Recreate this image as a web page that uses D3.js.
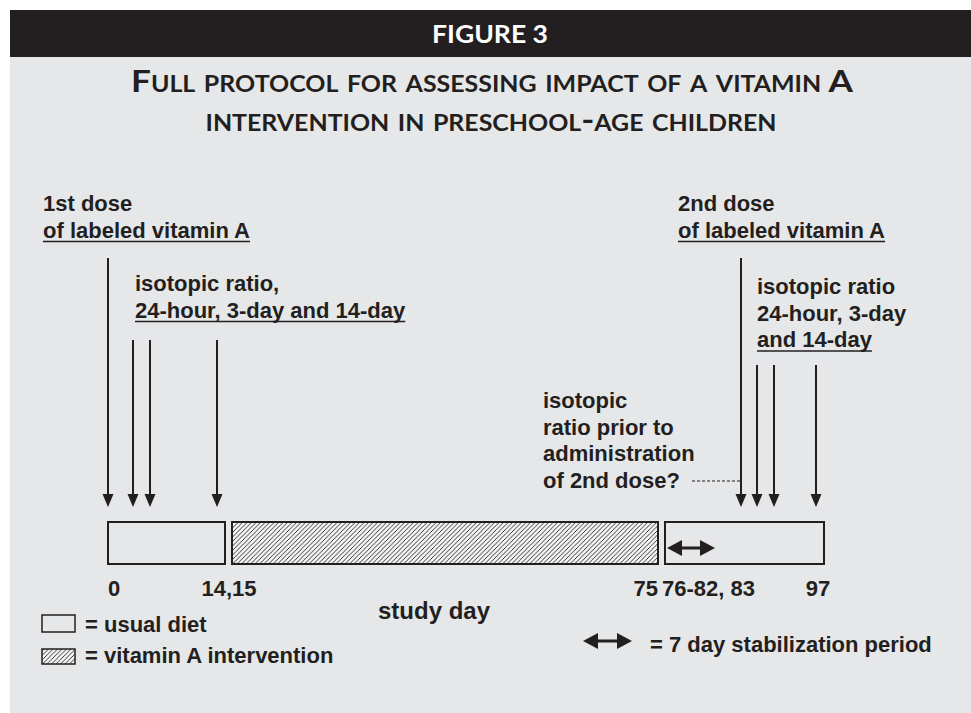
<!DOCTYPE html>
<html lang="en">
<head>
    <meta charset="UTF-8"/>
    <title>Figure 3 - vitamin A protocol</title>
    <script src="https://d3js.org/d3.v7.min.js"></script>
    <style>
        html, body {
            margin: 0;
            padding: 0;
            background: #ffffff;
        }
        svg text {
            fill: #231f20;
        }
        .lbl {
            font-family: "Liberation Sans", Arial, sans-serif;
            font-weight: bold;
            font-size: 22px;
        }
        .title {
            font-family: Lato, "Open Sans", sans-serif;
            font-weight: 700;
            font-variant: small-caps;
            font-size: 31px;
        }
    </style>
</head>
<body>
    <div id="chart"></div>
    <script>
        // phases of the study (day ranges, end is exclusive)
        var phaseNames = ["usual diet", "vitamin A intervention", "usual diet"];
        var phaseStart = [0, 15, 76];
        var phaseEnd = [15, 76, 98];

        // sampling days (arrows)
        var doseDays = [0, 83];
        var sampleDays1 = [1, 3, 14];
        var sampleDays2 = [84, 86, 97];
        var stabilization = [76, 82];

        var tickLabels = ["0", "14,15", "75", "76-82, 83", "97"];
        var tickDays = [0, 15, 76, 76, 97];

        var legendLabels = ["= usual diet", "= vitamin A intervention", "= 7 day stabilization period"];

        var w = 971, h = 713;
        var ink = "#231f20";

        var svg = d3.select("#chart").append("svg")
            .attr("width", w)
            .attr("height", h);

        var defs = svg.append("defs");
        var pat = defs.append("pattern")
            .attr("id", "hatch")
            .attr("patternUnits", "userSpaceOnUse")
            .attr("width", 4.5).attr("height", 4.5);
        pat.append("rect").attr("width", 4.5).attr("height", 4.5).attr("fill", "#f4f4f4");
        pat.append("path")
            .attr("d", "M-1,1 l2,-2 M0,4.5 l4.5,-4.5 M3.5,5.5 l2,-2")
            .attr("stroke", ink).attr("stroke-width", 0.9);

        // background panel + header bar
        svg.append("rect").attr("x", 10).attr("y", 10).attr("width", w - 10).attr("height", h - 10).attr("fill", "#e6e7e8");
        svg.append("rect").attr("x", 10).attr("y", 10).attr("width", w - 10).attr("height", 47).attr("fill", ink);

        svg.append("text")
            .attr("x", 490).attr("y", 43)
            .attr("text-anchor", "middle")
            .attr("textLength", 116).attr("lengthAdjust", "spacingAndGlyphs")
            .style("fill", "#ffffff")
            .style("font-family", "Lato, sans-serif")
            .style("font-weight", 700)
            .style("font-size", "25px")
            .text("FIGURE 3");

        svg.append("text").attr("class", "title")
            .attr("x", 492).attr("y", 92).attr("text-anchor", "middle")
            .attr("textLength", 722).attr("lengthAdjust", "spacingAndGlyphs")
            .text("Full protocol for assessing impact of a vitamin A");
        svg.append("text").attr("class", "title")
            .attr("x", 491).attr("y", 131).attr("text-anchor", "middle")
            .attr("textLength", 571).attr("lengthAdjust", "spacingAndGlyphs")
            .text("intervention in preschool-age children");

        // schematic (piecewise) day scale
        var x = d3.scaleLinear()
            .domain([0, 1, 3, 14, 15, 76, 82, 83, 84, 86, 97, 98])
            .range([108, 133, 150, 217, 232, 665, 715, 741, 757, 774, 816, 831]);
        var gap = 7;
        var boxTop = 522, boxH = 42, tip = 507;

        // phase boxes
        svg.selectAll("rect.phase")
            .data(phaseNames)
            .enter()
            .append("rect")
            .attr("class", "phase")
            .attr("x", function(d, i) { return x(phaseStart[i]); })
            .attr("y", boxTop)
            .attr("width", function(d, i) { return x(phaseEnd[i]) - gap - x(phaseStart[i]); })
            .attr("height", boxH)
            .attr("fill", function(d) { return d == "usual diet" ? "none" : "url(#hatch)"; })
            .attr("stroke", ink)
            .attr("stroke-width", 2);

        // down arrows
        function downArrow(xp, top) {
            svg.append("line")
                .attr("x1", xp).attr("x2", xp)
                .attr("y1", top).attr("y2", tip - 10)
                .attr("stroke", ink).attr("stroke-width", 2);
            svg.append("path")
                .attr("d", "M" + (xp - 5.5) + "," + (tip - 13) + " L" + (xp + 5.5) + "," + (tip - 13) + " L" + xp + "," + tip + " Z")
                .attr("fill", ink);
        }
        doseDays.forEach(function(d) { downArrow(x(d), 258); });
        sampleDays1.forEach(function(d) { downArrow(x(d), 340); });
        sampleDays2.forEach(function(d) { downArrow(x(d), 365); });

        // double arrow
        function doubleArrow(x1, x2, y) {
            svg.append("line")
                .attr("x1", x1 + 10).attr("x2", x2 - 10)
                .attr("y1", y).attr("y2", y)
                .attr("stroke", ink).attr("stroke-width", 3);
            svg.append("path")
                .attr("d", "M" + x1 + "," + y + " L" + (x1 + 15) + "," + (y - 8) + " L" + (x1 + 15) + "," + (y + 8) + " Z")
                .attr("fill", ink);
            svg.append("path")
                .attr("d", "M" + x2 + "," + y + " L" + (x2 - 15) + "," + (y - 8) + " L" + (x2 - 15) + "," + (y + 8) + " Z")
                .attr("fill", ink);
        }
        doubleArrow(x(stabilization[0]) + 2, x(stabilization[1]), 548);

        // dashed pointer for pre-dose sample
        svg.append("line")
            .attr("x1", 692).attr("x2", x(doseDays[1]) - 1)
            .attr("y1", 481).attr("y2", 481)
            .attr("stroke", ink).attr("stroke-width", 1)
            .attr("stroke-dasharray", "3,2");

        // text blocks; last line of some is underlined
        function block(xp, y0, lines, under) {
            lines.forEach(function(t, i) {
                var yy = y0 + i * 26.5;
                var tx = svg.append("text").attr("class", "lbl")
                    .attr("x", xp).attr("y", yy).text(t);
                if (under.indexOf(i) >= 0) {
                    var len = tx.node().getComputedTextLength();
                    svg.append("line")
                        .attr("x1", xp).attr("x2", xp + len)
                        .attr("y1", yy + 4).attr("y2", yy + 4)
                        .attr("stroke", ink).attr("stroke-width", 1.5);
                }
            });
        }
        block(43, 211, ["1st dose", "of labeled vitamin A"], [1]);
        block(135, 291, ["isotopic ratio,", "24-hour, 3-day and 14-day"], [1]);
        block(678, 211, ["2nd dose", "of labeled vitamin A"], [1]);
        block(757, 294, ["isotopic ratio", "24-hour, 3-day", "and 14-day"], [2]);
        block(543, 408, ["isotopic", "ratio prior to", "administration", "of 2nd dose?"], []);

        // tick labels
        var tickAnchor = ["start", "middle", "end", "start", "middle"];
        var tickShift = [0, -3, -gap, -3, 2];
        svg.selectAll("text.tick")
            .data(tickLabels)
            .enter()
            .append("text")
            .attr("class", "lbl tick")
            .attr("x", function(d, i) { return x(tickDays[i]) + tickShift[i]; })
            .attr("y", 596)
            .attr("text-anchor", function(d, i) { return tickAnchor[i]; })
            .text(function(d) { return d; });

        svg.append("text").attr("class", "lbl")
            .attr("x", 434).attr("y", 619)
            .attr("text-anchor", "middle")
            .style("font-size", "24px")
            .text("study day");

        // legend
        svg.append("rect").attr("x", 42).attr("y", 615).attr("width", 33).attr("height", 17)
            .attr("fill", "none").attr("stroke", ink).attr("stroke-width", 1.5);
        svg.append("rect").attr("x", 42).attr("y", 649).attr("width", 33).attr("height", 15)
            .attr("fill", "url(#hatch)").attr("stroke", ink).attr("stroke-width", 1.5);
        svg.append("text").attr("class", "lbl").attr("x", 85).attr("y", 632).text(legendLabels[0]);
        svg.append("text").attr("class", "lbl").attr("x", 85).attr("y", 663).text(legendLabels[1]);
        doubleArrow(583, 632, 641);
        svg.append("text").attr("class", "lbl").attr("x", 650).attr("y", 652).text(legendLabels[2]);
    </script>
</body>
</html>
